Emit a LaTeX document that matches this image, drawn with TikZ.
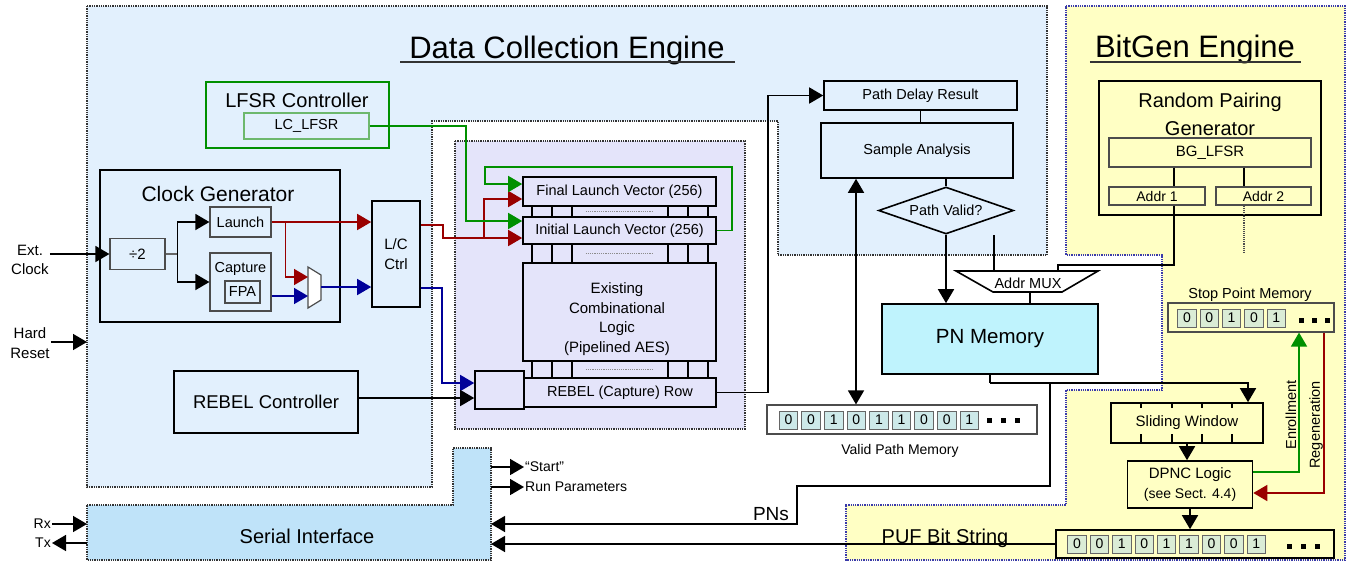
\documentclass[tikz,border=0pt]{standalone}
\usepackage{fontspec}
\setmainfont{Liberation Sans}
\usetikzlibrary{arrows.meta,calc,positioning,shapes.geometric}
\definecolor{DceFill}{HTML}{E2F0FD}
\definecolor{BgeFill}{HTML}{FFFFC4}
\definecolor{BgeEdge}{HTML}{3A3AAA}
\definecolor{CoreFill}{HTML}{E4E4FA}
\definecolor{SerFill}{HTML}{BFE3F9}
\definecolor{PnFill}{HTML}{BFF3FD}
\definecolor{ValidCell}{HTML}{CDE9E9}
\definecolor{BitCell}{HTML}{DAECD6}
\definecolor{SigRed}{HTML}{990000}
\definecolor{SigBlue}{HTML}{000099}
\definecolor{SigGreen}{HTML}{009000}
\definecolor{LfsrGreen}{HTML}{6DB86D}

\begin{document}
\begin{tikzpicture}[x=1pt,y=-1pt,
    blk/.style={draw=black,line width=1.6pt,inner sep=0pt,align=center,
      font=\fontsize{14.5}{18}\selectfont},
    subblk/.style={blk,draw=black!70,line width=1.2pt},
    cell/.style={draw=black!60,line width=0.9pt,inner sep=0pt,
      minimum width=18.5pt,minimum height=18pt,font=\fontsize{14}{16}\selectfont},
    wire/.style={line width=1.6pt},
    sig/.style={wire,-{Triangle[length=14pt,width=16pt]}},
    bisig/.style={wire,{Triangle[length=14pt,width=16pt]}-{Triangle[length=14pt,width=16pt]}},
    region/.style={densely dotted,line width=1.3pt,draw=black!80},
    txt/.style={inner sep=1pt,align=center,font=\fontsize{14.5}{19}\selectfont},
    head/.style={inner sep=0pt,anchor=base,font=\fontsize{31}{36}\selectfont}]

  \fill[white] (0,0) rectangle (1351,563);
  \useasboundingbox (0,0) rectangle (1351,563);

  % engine areas
  \draw[region,fill=DceFill] (87,6) -- (1047,6) -- (1047,255) -- (778,255)
    -- (778,121) -- (432,121) -- (432,487) -- (87,487) -- cycle;
  \draw[region,draw=BgeEdge,fill=BgeFill] (1066,6) -- (1345,6) -- (1345,560)
    -- (846,560) -- (846,505) -- (1066,505) -- (1066,390) -- (1162,390)
    -- (1162,255) -- (1066,255) -- cycle;
  \draw[region,fill=CoreFill] (455,141) rectangle (745,429);
  \draw[region,fill=SerFill] (87,505) -- (453,505) -- (453,448) -- (491,448)
    -- (491,560) -- (87,560) -- cycle;
  \coordinate (serE) at (491,500);
  \coordinate (serW) at (87,530);
  \coordinate (dceW) at (87,342);

  \node[head] (dcetitle) at (567,58) {Data Collection Engine};
  \node[head] (bgetitle) at (1195,57) {BitGen Engine};
  \draw[line width=1.3pt,black!80] ([xshift=-9pt,yshift=-4pt]dcetitle.base west)
    -- ([xshift=10pt,yshift=-4pt]dcetitle.base east);
  \draw[line width=1.3pt,black!80] ([xshift=-5pt,yshift=-5pt]bgetitle.base west)
    -- ([xshift=6pt,yshift=-5pt]bgetitle.base east);

  % inputs on the left
  \node[txt,font=\fontsize{15}{19.5}\selectfont] (extclk) at (30,260) {Ext.\\Clock};
  \node[txt,font=\fontsize{15}{19.5}\selectfont] (hardrst) at (30,343) {Hard\\Reset};

  % clock generator
  \node[blk,minimum width=240pt,minimum height=152pt] (clkgen) at (220,246) {};
  \node[txt,font=\fontsize{21}{24}\selectfont] (clkgenlbl) at (218,194) {Clock Generator};
  \node[subblk,minimum width=55pt,minimum height=31pt,font=\fontsize{15}{18}\selectfont]
    (div2) at (137.5,254) {÷2};
  \node[subblk,minimum width=61pt,minimum height=30pt] (launch) at (240.5,222) {Launch};
  \node[subblk,minimum width=61pt,minimum height=58pt] (capture) at (240.5,282) {};
  \node[txt] (capturelbl) at (240.5,269) {Capture};
  \node[subblk,minimum width=35pt,minimum height=22pt] (fpa) at (242.5,292) {FPA};
  \draw[draw=black!70,line width=1.2pt,fill=white]
    (308,267) -- (321,275) -- (321,300) -- (308,308) -- cycle;
  \coordinate (cmuxA) at (308,277);
  \coordinate (cmuxB) at (308,296);
  \coordinate (cmuxO) at (321,287);

  \node[blk,minimum width=48pt,minimum height=106pt,font=\fontsize{15}{20}\selectfont]
    (lcctrl) at (396,254) {L/C\\Ctrl};

  \node[blk,draw=SigGreen,minimum width=183pt,minimum height=66pt] (lfsrctl) at (297.5,115) {};
  \node[txt,font=\fontsize{20}{24}\selectfont] (lfsrlbl) at (297,100) {LFSR Controller};
  \node[blk,draw=LfsrGreen,line width=1.2pt,minimum width=125pt,minimum height=26pt]
    (lclfsr) at (306.5,126) {LC\_LFSR};

  \node[blk,minimum width=184pt,minimum height=62pt,font=\fontsize{18.5}{22}\selectfont]
    (rebelctl) at (266,402) {REBEL Controller};

  % circuit under test
  \node[blk,minimum width=193pt,minimum height=29pt] (finallv) at (619.5,191.5) {Final Launch Vector (256)};
  \node[blk,minimum width=193pt,minimum height=27pt] (initlv) at (619.5,230.5) {Initial Launch Vector (256)};
  \node[blk,minimum width=193pt,minimum height=98pt] (comblogic) at (619.5,312) {};
  \node[txt,font=\fontsize{15}{19.7}\selectfont] (comblbl) at (617,319)
    {Existing\\Combinational\\Logic\\(Pipelined AES)};
  \node[blk,minimum width=192pt,minimum height=29pt] (rebelrow) at (620,392.5) {REBEL (Capture) Row};
  \node[blk,minimum width=49pt,minimum height=38pt] (capbox) at (499.5,390) {};

  \foreach \x in {532,552,572,668,688,708} {
    \draw[wire] (finallv.south -| \x,0) -- (initlv.north -| \x,0);
    \draw[wire] (initlv.south -| \x,0) -- (comblogic.north -| \x,0);
    \draw[wire] (comblogic.south -| \x,0) -- (rebelrow.north -| \x,0);
  }
  \foreach \a/\b in {finallv/initlv,initlv/comblogic,comblogic/rebelrow}
    \draw[black!45,densely dotted,line width=1.2pt]
      ($(\a.south)!.5!(\b.north)+(-34,0)$) -- ++(68,0);

  % path analysis
  \node[blk,minimum width=193pt,minimum height=29pt] (pathdelay) at (920.5,95.5) {Path Delay Result};
  \node[blk,minimum width=192pt,minimum height=55pt] (sample) at (917,150.5) {Sample Analysis};
  \node[blk,shape=diamond,aspect=2.87,minimum width=135pt,minimum height=47pt]
    (valid) at (946,210.5) {Path Valid?};
  \node[blk,fill=PnFill,minimum width=216pt,minimum height=70pt,font=\fontsize{20.5}{24}\selectfont]
    (pnmem) at (990,339) {PN Memory};

  \draw[line width=1.6pt,fill=white] (956,271) -- (1098,271) -- (1062,292) -- (993,292) -- cycle;
  \node[txt] (addrmux) at (1028,283) {Addr MUX};
  \coordinate (muxin) at (994,271);
  \coordinate (muxsel) at (1058,271);
  \coordinate (muxout) at (1030,292);
  \coordinate (selstub) at (994,235);

  \node[subblk,fill=white,minimum width=270pt,minimum height=29pt] (validmem) at (902,419.5) {};
  \foreach \b [count=\i from 0] in {0,0,1,0,1,1,0,0,1}
    \node[cell,fill=ValidCell] (vp\i) at (788.5+22.6*\i,420) {\b};
  \foreach \k in {0,1,2}
    \fill ($(vp8.east)+(8+14*\k,-2.5)$) rectangle ++(5,5);
  \node[txt,font=\fontsize{14}{17}\selectfont] (validlbl) at (900,451) {Valid Path Memory};

  % bit generation
  \node[blk,minimum width=222pt,minimum height=134pt] (rpg) at (1210,148) {};
  \node[txt,font=\fontsize{20}{28}\selectfont] (rpglbl) at (1210,114) {Random Pairing\\Generator};
  \node[subblk,minimum width=202pt,minimum height=29pt,font=\fontsize{15}{18}\selectfont]
    (bglfsr) at (1210,152.5) {BG\_LFSR};
  \node[subblk,minimum width=96pt,minimum height=18pt,font=\fontsize{14}{16}\selectfont]
    (addr1) at (1157,196) {Addr 1};
  \node[subblk,minimum width=95pt,minimum height=18pt,font=\fontsize{14}{16}\selectfont]
    (addr2) at (1263.5,196) {Addr 2};

  \node[txt] (stoplbl) at (1250,295) {Stop Point Memory};
  \node[subblk,minimum width=166pt,minimum height=29pt] (stopmem) at (1251,317.5) {};
  \foreach \b [count=\i from 0] in {0,0,1,0,1}
    \node[cell,fill=BitCell] (sp\i) at (1187+22.3*\i,318) {\b};
  \foreach \k in {0,1,2}
    \fill ($(sp4.east)+(13+13*\k,-0.5)$) rectangle ++(5,5);

  \node[blk,minimum width=152pt,minimum height=40pt,font=\fontsize{15}{18}\selectfont]
    (slidwin) at (1187,423) {Sliding Window};
  \foreach \x in {1141,1172,1202,1232} {
    \draw[wire] (slidwin.north -| \x,0) -- ++(0,6);
    \draw[wire] (slidwin.south -| \x,0) -- ++(0,-10);
  }
  \node[blk,minimum width=125pt,minimum height=47pt,font=\fontsize{15}{20}\selectfont]
    (dpnc) at (1190,484.5) {DPNC Logic\\{\fontsize{14}{20}\selectfont(see Sect. 4.4)}};

  \node[blk,minimum width=278pt,minimum height=28pt] (pufmem) at (1195,544) {};
  \foreach \b [count=\i from 0] in {0,0,1,0,1,1,0,0,1}
    \node[cell,fill=BitCell] (pf\i) at (1077+22.4*\i,544) {\b};
  \foreach \k in {0,1,2}
    \fill ($(pf8.east)+(21+14*\k,-0.5)$) rectangle ++(5,5);

  \node[txt,rotate=90] (enrlbl) at (1291,415) {Enrollment};
  \node[txt,rotate=90] (reglbl) at (1316,425) {Regeneration};

  % serial link
  \node[txt,font=\fontsize{20}{24}\selectfont] (seriallbl) at (307,536) {Serial Interface};
  \node[txt,anchor=west,font=\fontsize{14}{17}\selectfont] (startlbl) at (524,467) {“Start”};
  \node[txt,anchor=west,font=\fontsize{14}{17}\selectfont] (runlbl) at (524,487) {Run Parameters};
  \node[txt,anchor=east,font=\fontsize{14}{17}\selectfont] (rxlbl) at (52,524) {Rx};
  \node[txt,anchor=east,font=\fontsize{14}{17}\selectfont] (txlbl) at (52,543) {Tx};
  \node[txt,anchor=base,font=\fontsize{19}{22}\selectfont] (pnslbl) at (771,520) {PNs};
  \node[txt,anchor=base,font=\fontsize{20}{24}\selectfont] (puflbl) at (945,543) {PUF Bit String};

  % connections
  \draw[sig] (extclk.east |- div2.west) -- (div2.west);
  \draw[sig] (hardrst.east |- dceW) -- (dceW);
  \draw[wire,black!60] (div2.east) -- ++(12,0) coordinate (divfork);
  \draw[sig] (divfork) |- (launch.west);
  \draw[sig] (divfork) |- (capture.west);
  \draw[sig,SigRed] (launch.east) -- (launch.east -| lcctrl.west);
  \draw[sig,SigRed] ($(launch.east)+(14,0)$) |- (cmuxA);
  \draw[sig,SigBlue] (capture.east |- cmuxB) -- (cmuxB);
  \draw[sig,SigBlue] (cmuxO) -- (cmuxO -| lcctrl.west);

  \draw[sig,SigRed] (lcctrl.east |- 0,225) -- (443,225) |- ([yshift=-7.5pt]initlv.west);
  \draw[sig,SigRed] (484,238) |- ([yshift=-7.5pt]finallv.west);
  \draw[sig,SigBlue] (lcctrl.east |- 0,288) -- (442,288) |- (capbox.west |- 0,383);
  \draw[sig] (rebelctl.east |- 0,398) -- (capbox.west |- 0,398);
  \draw[sig,SigGreen] (lclfsr.east) -- (lclfsr.east -| 466,0) |- ([yshift=9.5pt]initlv.west);
  \draw[sig,SigGreen] (initlv.east) -- (initlv.east -| 732,0) |- (485,167)
    |- ([yshift=7.5pt]finallv.west);

  \draw[sig] (rebelrow.east) -- ($(rebelrow.east)+(51,0)$) |- (pathdelay.west);
  \draw[wire] (pathdelay.south) -- (pathdelay.south |- sample.north);
  \draw[wire] (sample.south -| valid.north) -- (valid.north);
  \draw[sig] (valid.south) -- (valid.south |- pnmem.north);
  \draw[bisig] (sample.south -| 856,0) -- (validmem.north -| 856,0);
  \draw[wire] (selstub) -- (muxin);
  \draw[wire] (muxout) -- (muxout |- pnmem.north);

  \draw[wire] (bglfsr.south -| 1174,0) -- (addr1.north -| 1174,0);
  \draw[wire] (bglfsr.south -| 1244,0) -- (addr2.north -| 1244,0);
  \draw[black!70,densely dotted,line width=1.1pt] (addr2.south -| 1244,0) -- (1244,252);
  \draw[wire] (addr1.south -| 1174,0) |- (1058,265) -- (muxsel);

  \draw[wire] (pnmem.south) -- (pnmem.south |- 0,383) coordinate (pnfork);
  \draw[sig] (pnfork) -| ([xshift=61pt]slidwin.north);
  \draw[sig] (pnfork -| 1050,0) |- (797,486) |- (serE |- 0,524);
  \draw[sig] (slidwin.south) -- (slidwin.south |- dpnc.north);
  \draw[sig] (dpnc.south) -- (dpnc.south |- pufmem.north);
  \draw[sig,SigGreen] (dpnc.east |- 0,472) -| (stopmem.south -| 1299,0);
  \draw[sig,SigRed] (stopmem.south -| 1324,0) |- (dpnc.east |- 0,493);
  \draw[sig] (pufmem.west) -- (serE |- pufmem.west);

  \draw[sig] (serE |- startlbl.west) -- (startlbl.west);
  \draw[sig] (serE |- runlbl.west) -- (runlbl.west);
  \draw[sig] (rxlbl.east) -- (rxlbl.east -| serW);
  \draw[sig] (txlbl.east -| serW) -- (txlbl.east);
\end{tikzpicture}
\end{document}
